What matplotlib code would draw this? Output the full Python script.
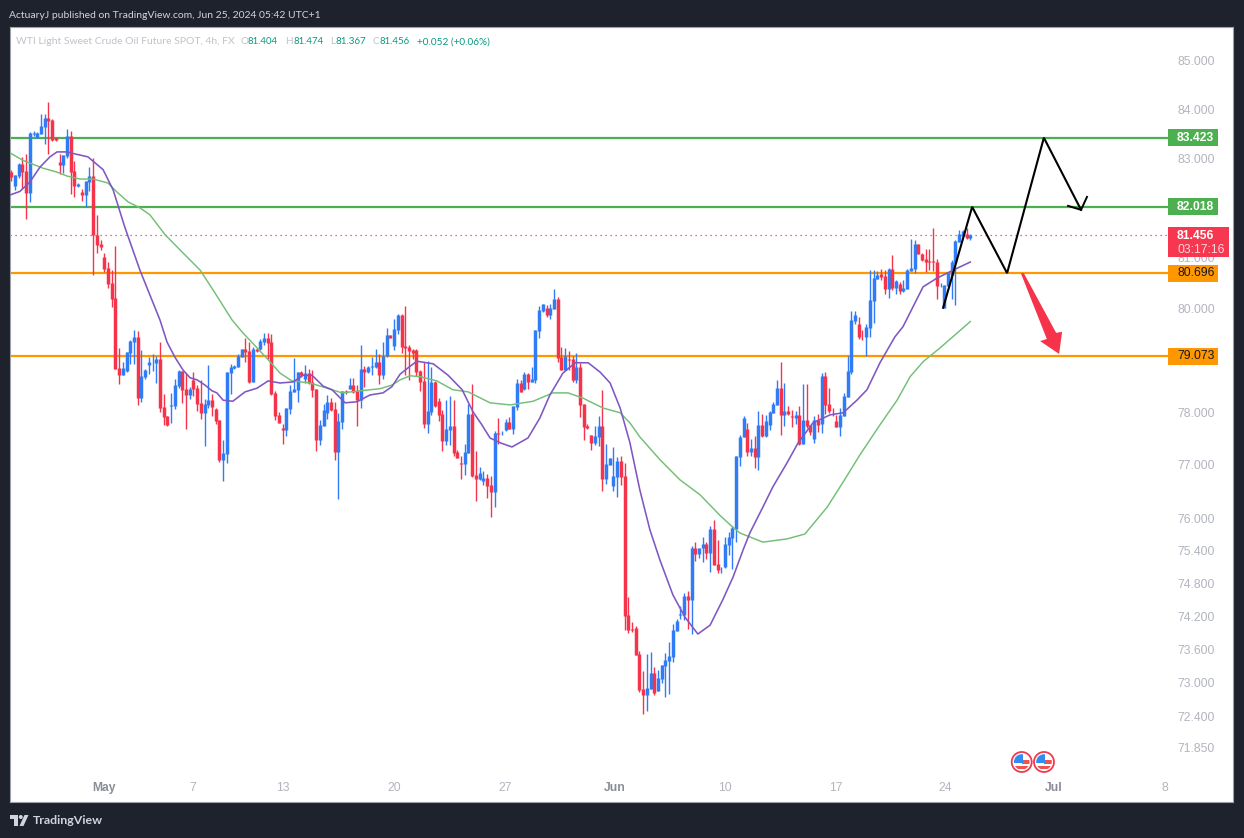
import matplotlib
matplotlib.use("Agg")
import matplotlib.pyplot as plt
from matplotlib.patches import Rectangle, Circle, Polygon
from matplotlib.ticker import NullLocator

open_ = [82.73,82.43,82.65,82.89,82.75,82.29,83.49,83.42,83.50,83.64,
83.82,83.78,83.41,82.93,82.87,83.05,83.46,82.75,82.44,82.32,
82.26,82.52,82.64,81.46,81.28,81.02,80.80,80.51,80.21,78.85,
78.72,78.80,79.14,79.36,79.45,78.28,78.68,78.91,78.96,78.95,
79.03,78.10,77.93,78.12,78.12,78.51,78.80,78.45,78.33,78.62,
78.47,78.17,77.98,78.13,78.23,78.06,77.85,77.09,77.20,78.76,
78.85,78.87,79.07,79.22,79.18,78.58,79.22,79.22,79.35,79.43,
79.35,78.37,77.94,77.70,77.66,78.06,78.38,78.42,78.77,78.64,
78.75,78.58,78.44,77.47,77.74,77.98,78.19,78.06,77.24,77.81,
78.41,78.44,78.52,78.40,78.23,78.83,78.77,78.87,78.87,78.97,
78.72,79.08,79.49,79.27,79.59,79.88,79.28,79.26,79.20,79.20,
78.80,78.60,77.77,78.00,78.58,78.21,77.96,77.45,77.66,77.74,
77.24,77.04,77.02,77.22,77.96,76.81,76.73,76.70,76.75,76.62,
76.49,77.60,77.58,77.66,77.81,77.68,78.10,78.56,78.45,78.74,
78.58,78.62,79.57,79.96,80.01,79.88,79.99,80.19,79.07,78.81,
79.03,79.03,78.62,78.87,78.15,77.74,77.56,77.41,77.53,77.74,
76.73,77.00,76.60,76.77,77.07,76.79,74.23,73.97,73.99,73.52,
72.89,72.79,72.89,73.18,72.86,73.07,73.31,73.39,73.46,73.93,
74.23,74.23,74.57,74.50,75.45,75.34,75.45,75.53,75.36,75.81,
75.16,75.06,75.10,75.51,75.64,75.81,77.15,77.52,77.68,77.25,
77.32,77.15,77.76,77.55,77.76,77.98,78.14,78.46,77.95,78.02,
77.93,77.89,77.95,77.40,77.85,77.76,77.49,77.85,77.78,78.69,
78.16,78.03,77.83,77.72,77.93,78.29,78.77,79.76,79.70,79.47,
79.45,79.63,80.15,80.59,80.68,80.64,80.39,80.78,80.41,80.49,
80.35,80.39,80.74,80.78,81.28,81.08,80.98,80.94,80.94,80.92,
80.46,80.01,80.45,80.66,80.90,81.32,81.44,81.48,81.404]

high = [82.76,82.66,82.90,83.02,83.08,83.53,83.56,83.53,83.90,83.90,
84.15,83.80,83.43,83.09,83.07,83.59,83.56,82.95,82.50,82.38,
82.54,82.82,83.01,81.86,81.36,81.10,80.92,80.77,81.24,79.24,
78.97,79.16,79.39,79.59,79.57,79.20,78.83,79.07,79.12,79.08,
79.35,78.35,77.93,78.37,78.64,78.81,78.80,78.76,78.49,78.78,
78.53,78.62,78.25,78.91,78.35,78.08,77.85,77.47,78.78,78.93,
78.91,79.12,79.22,79.43,79.35,79.26,79.24,79.41,79.53,79.53,
79.51,78.41,78.00,77.77,78.08,78.52,79.05,78.77,78.79,78.91,
78.83,78.81,78.44,77.85,78.15,78.33,78.27,78.19,77.98,78.40,
78.42,78.65,78.65,78.52,79.29,78.88,78.88,79.07,79.21,79.12,
79.35,79.62,79.49,79.80,79.90,79.90,80.05,79.30,79.22,79.22,
78.81,78.97,78.99,78.87,78.60,78.27,78.04,78.23,78.31,78.23,
77.28,77.17,77.39,78.15,78.54,77.26,76.96,76.88,76.83,76.79,
77.64,77.89,77.64,77.87,77.91,78.12,78.64,78.62,78.78,78.76,
78.87,79.59,80.05,80.09,80.07,80.09,80.39,80.23,79.26,79.24,
79.18,79.08,79.14,78.95,78.15,77.77,77.56,77.74,77.92,78.43,
77.39,77.13,77.34,77.15,77.17,77.04,74.55,74.10,74.03,73.57,
73.22,73.52,73.56,73.29,73.23,73.32,73.54,73.74,74.06,74.15,
74.39,74.63,74.66,75.49,75.57,75.45,75.66,75.57,75.86,75.97,
75.60,75.10,75.66,75.75,75.86,77.17,77.57,77.93,77.80,77.49,
77.55,78.02,77.97,77.95,78.02,78.20,78.62,78.97,78.56,78.12,
78.04,78.02,78.12,78.54,78.54,77.76,77.93,77.97,78.75,78.77,
78.46,78.08,77.95,78.08,78.37,79.08,79.96,79.96,79.84,79.59,
79.70,80.76,80.76,80.74,80.78,80.76,80.80,81.06,80.57,80.53,
80.57,80.78,81.38,81.36,81.28,81.10,81.18,81.18,81.60,80.98,
80.51,80.47,80.70,80.96,81.36,81.56,81.56,81.60,81.474]

low = [82.55,82.35,82.60,82.38,81.77,82.11,83.46,83.42,83.50,83.29,
83.08,83.36,83.36,82.68,82.71,83.01,82.27,82.22,82.42,82.14,
82.01,82.34,80.67,81.10,81.16,80.73,80.41,80.03,78.83,78.55,
78.72,78.78,78.93,78.93,78.14,78.19,78.64,78.74,78.80,78.56,
78.00,77.75,77.74,77.79,78.06,78.47,78.17,77.68,78.25,78.31,
78.02,77.87,77.36,78.08,77.93,77.77,77.05,76.70,77.04,78.35,
78.83,78.87,79.07,78.97,78.56,78.58,79.16,79.20,79.30,79.03,
78.33,77.85,77.79,77.39,77.55,77.96,78.38,78.19,78.68,78.56,
78.54,78.29,77.26,77.38,77.74,77.87,78.02,77.09,76.36,77.68,
78.35,78.44,78.37,77.74,78.08,78.48,78.75,78.72,78.85,78.54,
78.64,79.07,79.43,79.20,79.51,79.14,78.72,78.62,79.03,78.70,
78.41,77.70,77.60,77.94,78.10,77.83,77.26,77.38,77.38,77.17,
77.13,76.73,76.81,77.22,76.77,76.32,76.71,76.62,76.38,76.02,
76.21,77.39,77.56,77.64,77.68,77.58,78.04,78.39,78.43,78.45,
78.58,78.56,79.43,79.94,79.84,79.80,79.99,78.97,78.81,78.81,
78.81,78.58,78.56,77.91,77.47,77.68,77.28,77.38,77.36,76.51,
76.64,77.00,76.51,76.40,76.62,73.95,73.90,73.92,73.50,72.84,
72.45,72.50,72.89,72.79,72.86,73.00,72.75,72.80,73.38,73.93,
74.15,74.14,73.97,73.88,75.21,75.27,75.20,75.25,75.01,75.14,
74.99,74.99,75.08,75.32,75.07,75.56,76.98,77.52,77.17,77.17,
76.94,76.91,77.52,77.52,77.66,77.98,78.14,77.57,77.74,77.95,
77.72,77.78,77.38,77.40,77.70,77.57,77.42,77.62,77.60,77.97,
77.98,77.93,77.72,77.55,77.93,78.29,78.73,79.70,79.41,79.39,
79.08,79.45,79.72,80.59,80.57,80.29,80.21,80.37,80.29,80.29,
80.33,80.39,80.74,80.70,81.08,80.94,80.72,80.76,80.74,80.19,
80.43,80.01,80.45,80.19,80.07,81.32,81.42,81.38,81.367]

close = [82.62,82.66,82.89,82.73,82.29,83.51,83.51,83.51,83.66,83.82,
83.76,83.38,83.38,82.87,83.07,83.46,82.73,82.44,82.48,82.26,
82.54,82.64,81.45,81.26,81.22,80.78,80.48,80.19,78.83,78.72,
78.85,79.16,79.37,79.45,78.28,78.70,78.81,78.97,78.97,79.03,
78.08,77.91,77.75,78.13,78.53,78.80,78.43,78.33,78.45,78.45,
78.15,77.98,78.15,78.23,78.10,77.83,77.09,77.22,78.78,78.87,
78.89,79.08,79.22,79.16,78.58,79.22,79.18,79.37,79.43,79.33,
78.35,77.93,77.79,77.66,78.08,78.40,78.44,78.77,78.72,78.75,
78.56,78.42,77.47,77.75,78.04,78.19,78.04,77.24,77.83,78.40,
78.39,78.52,78.38,78.23,78.83,78.77,78.87,78.88,78.97,78.72,
79.09,79.49,79.43,79.60,79.88,79.26,79.24,79.18,79.14,78.78,
78.58,77.77,78.02,78.58,78.12,77.94,77.45,77.68,77.74,77.22,
77.13,77.02,77.24,77.96,76.79,76.73,76.85,76.75,76.60,76.49,
77.60,77.58,77.59,77.81,77.68,78.12,78.56,78.39,78.74,78.58,
78.64,79.59,79.98,80.09,79.88,80.01,80.19,79.05,78.81,79.08,
79.01,78.62,78.87,78.13,77.72,77.70,77.41,77.55,77.74,76.73,
77.02,77.13,76.79,77.07,76.77,74.21,73.95,73.96,73.50,72.88,
72.79,72.91,73.18,72.82,73.09,73.32,73.41,73.48,73.95,74.12,
74.25,74.57,74.50,75.45,75.34,75.45,75.53,75.36,75.81,75.14,
75.05,75.07,75.53,75.66,75.83,77.17,77.53,77.89,77.25,77.32,
77.15,77.76,77.55,77.83,78.00,78.16,78.46,77.95,78.02,77.97,
77.90,77.95,77.40,77.85,77.74,77.62,77.85,77.76,78.69,78.14,
78.02,78.02,77.72,77.95,78.31,78.79,79.78,79.88,79.45,79.46,
79.65,80.17,80.61,80.66,80.63,80.39,80.78,80.41,80.55,80.35,
80.41,80.76,80.80,81.28,81.08,80.96,80.92,80.93,80.93,80.45,
80.47,80.47,80.70,80.92,81.34,81.48,81.54,81.40,81.456]

fast_ma_bar = [-0.3,2.3,5,7.7,10.4,12.3,15,17.1,20.6,24.7,27.4,30.6,34.6,40,41.9,44,46.2,48.1,50,52.1,54,55.3,57,59.6,62.9,66.1,69.1,72.3,75.8,78.5,80.9,83.9,86.3,89.8,93,96.5,100,102.4,104.6,106.7,109.1,113.5,117.5,121.3,124.2,126.6,128.8,131.5,134.7,139,142.2,144.9,148.4,151.7,155.2,158.4,161.1,163.8,166.4,169.1,171.8,174.5,178,181.2,184.7,188,191.4,194.2,196.9,198.7,202.2,204.9,208.7,211.7,215.7,220.3,223.8,227.5,230.2,233.7,237.7,239.9,245.3,249,253.4,258]
fast_ma_val = [82.26,82.33,82.52,82.82,83.03,83.13,83.13,83.09,83.03,82.77,82.36,81.60,80.76,79.78,79.35,79.06,78.81,78.66,78.62,78.52,78.41,78.37,78.23,78.21,78.39,78.46,78.60,78.56,78.58,78.71,78.71,78.50,78.43,78.18,78.20,78.33,78.37,78.49,78.73,78.85,78.98,78.93,78.71,78.43,78.01,77.76,77.51,77.42,77.34,77.51,77.89,78.33,78.75,78.95,78.95,78.77,78.56,78.08,77.43,76.53,75.79,75.23,74.59,74.19,73.88,74.04,74.50,74.92,75.42,75.73,76.21,76.59,77.04,77.42,77.80,77.95,77.99,78.23,78.43,78.95,79.45,79.65,80.43,80.60,80.76,80.92]

slow_ma_bar = [-0.35,3.1,8.5,12.3,15,18.5,22,26,28.4,31.4,34.6,37.3,41.4,45.4,50.8,54.8,59.4,62.3,66.1,69.6,72.3,75.5,80.4,83.6,89,93.8,99.2,102.4,104.6,107.3,110,114.5,118.8,122.9,128.8,134.2,140.4,145.7,149.8,153.8,159.2,163.8,166.4,169.1,174.5,179.9,185.3,190.6,193.4,196,202.2,208.7,213.5,219.5,223.8,228.3,233.7,238.3,241.8,245.3,249.9,258]
slow_ma_val = [83.11,82.96,82.80,82.72,82.64,82.58,82.58,82.50,82.32,82.12,82.00,81.86,81.46,81.16,80.76,80.31,79.78,79.53,79.24,78.97,78.75,78.60,78.56,78.49,78.37,78.41,78.45,78.52,78.62,78.70,78.68,78.60,78.43,78.39,78.18,78.14,78.21,78.37,78.37,78.27,78.08,77.99,77.80,77.53,77.10,76.72,76.44,76.06,75.88,75.73,75.56,75.62,75.71,76.21,76.68,77.19,77.76,78.23,78.68,78.97,79.24,79.75]

green_levels = [83.423, 82.018]
orange_levels = [80.696, 79.073]
last_price = 81.456
countdown = "03:17:16"

path_bar = [250.7,258.5,267.9,277.8,287.8]
path_val = [80.02,82.02,80.70,83.42,81.96]
head_bar = [289.4,287.8,284.3]
head_val = [82.22,81.96,82.04]
red_arrow_bar = [271.6,272.4,281.1,282.7,281.9,276.8,278.6]
red_arrow_val = [80.70,80.70,79.53,79.55,79.12,79.37,79.41]

price_ticks = [85.0,84.0,83.0,81.0,80.0,78.0,77.0,76.0,75.4,74.8,74.2,73.6,73.0,72.4,71.85]
date_pos = [24.94,48.9,73.1,103,132.8,162.4,192,221.9,251.2,280.5,310.4]
date_labels = ["May","7","13","20","27","Jun","10","17","24","Jul","8"]
month_labels = {"May","Jun","Jul"}

BG = "#1e222d"
UP = "#2f7cf6"
DOWN = "#f5334a"
GREEN = "#4caf50"
ORANGE = "#ff9800"
TICK = "#b2b5be"
TEAL = "#089981"
LEG = "#bfc2ca"
W, H = 1244, 838
plt.rcParams["font.family"] = ["Liberation Sans", "DejaVu Sans"]

fig = plt.figure(figsize=(W/100, H/100), dpi=100, facecolor=BG)
L, R, T, B = 10, 1233, 27, 802
ax = fig.add_axes([L/W, (H-B)/H, (R-L)/W, (B-T)/H], facecolor="white")
ax.set_yscale("log")
ax.set_xlim(-0.35, 328.68)
ax.set_ylim(70.905, 85.71)
for s in ax.spines.values():
    s.set_color("#9ea1a9")
    s.set_linewidth(0.8)
ax.yaxis.tick_right()
ax.set_yticks(price_ticks, [f"{v:.3f}" for v in price_ticks])
ax.yaxis.set_minor_locator(NullLocator())
ax.tick_params(axis="y", which="both", length=0, pad=-40.3, labelsize=8.7, labelcolor=TICK)
ax.set_xticks(date_pos, date_labels)
ax.tick_params(axis="x", length=0, pad=-14.5, labelsize=8.7, labelcolor=TICK)
for t, s in zip(ax.get_xticklabels(), date_labels):
    if s in month_labels:
        t.set_fontweight("bold")
        t.set_color("#8a8d96")

END_BAR = 311.2  # right end of the level lines
for v in green_levels:
    ax.hlines(v, -0.35, END_BAR, color=GREEN, lw=1.6, zorder=2)
for v in orange_levels:
    ax.hlines(v, -0.35, END_BAR, color=ORANGE, lw=1.6, zorder=2)
ax.hlines(last_price, -0.35, END_BAR, color=DOWN, lw=0.9, linestyles=(0, (1, 3)), zorder=2)

bars = list(range(len(close)))
colors = [UP if c >= o else DOWN for o, c in zip(open_, close)]
ax.vlines(bars, low, high, colors=colors, lw=1.0, capstyle="butt", zorder=3)
ax.vlines(bars, [min(o, c) for o, c in zip(open_, close)], [max(o, c) for o, c in zip(open_, close)],
          colors=colors, lw=2.5, capstyle="butt", zorder=3)

ax.plot(slow_ma_bar, slow_ma_val, color="#72bf75", lw=1.05, zorder=4)
ax.plot(fast_ma_bar, fast_ma_val, color="#7e57c2", lw=1.15, zorder=4)
ax.plot(path_bar, path_val, color="black", lw=1.5, zorder=5, solid_joinstyle="miter")
ax.plot(head_bar, head_val, color="black", lw=1.4, zorder=5)
ax.add_patch(Polygon(list(zip(red_arrow_bar, red_arrow_val)), closed=True, fc=DOWN, ec="none", zorder=5))

# overlay in pixel units for scale labels, header and logos
ov = fig.add_axes([0, 0, 1, 1], zorder=5, facecolor="none")
ov.set_xlim(0, W)
ov.set_ylim(H, 0)
ov.axis("off")
renderer = fig.canvas.get_renderer()

def fitted(x, y, s, width, color, **kw):
    t = ov.text(x, y, s, color=color, va="center", fontsize=9, **kw)
    t.set_fontsize(9 * width / t.get_window_extent(renderer).width)
    return t

def ypix(price):
    return H - ax.transData.transform((0, price))[1]

def tag(price, color, tcolor):
    y = ypix(price)
    ov.add_patch(Rectangle((1168, y-8.5), 50, 17, fc=color, ec="none"))
    ov.text(1177, y, f"{price:.3f}", color=tcolor, fontsize=8.7, va="center", ha="left",
            fontweight="bold" if tcolor == "white" else "normal")

for v in green_levels:
    tag(v, GREEN, "white")
for v in orange_levels:
    tag(v, ORANGE, "#131722")

y_last = ypix(last_price)
ov.add_patch(Rectangle((1168, y_last-8.5), 61, 30, fc="#f7374f", ec="none"))
ov.text(1177, y_last+0.5, f"{last_price:.3f}", color="white", fontsize=8.7, fontweight="bold", va="center")
ov.text(1177, y_last+14.5, countdown, color="#fbd5da", fontsize=8.7, va="center")

HEAD = "Lato"
fitted(9, 15, "ActuaryJ published on TradingView.com, Jun 25, 2024 05:42 UTC+1", 314, "#d1d4dc", family=HEAD)
fitted(16, 42, "WTI Light Sweet Crude Oil Future SPOT, 4h, FX", 219, LEG, family=HEAD)
for x, s in [(240.5, "O"), (285.5, "H"), (330, "L"), (372.5, "C")]:
    ov.text(x, 42, s, color=LEG, fontsize=7.2, va="center", family=HEAD)
for x, s in [(248, "81.404"), (293, "81.474"), (335.5, "81.367"), (379, "81.456")]:
    fitted(x, 42, s, 30.5, TEAL, family=HEAD)
fitted(417, 42, "+0.052 (+0.06%)", 73, TEAL, family=HEAD)

# TradingView logo
LOGO = "#d1d4dc"
ov.add_patch(Polygon([(10, 815), (18, 815), (18, 826), (14, 826), (14, 819), (10, 819)], fc=LOGO, ec="none"))
ov.add_patch(Circle((20.8, 817), 2, fc=LOGO, ec="none"))
ov.add_patch(Polygon([(24.5, 815), (28.5, 815), (23.5, 826), (19.5, 826)], fc=LOGO, ec="none"))
fitted(33, 820.5, "TradingView", 70, LOGO, fontweight="bold", family="Lato")

# event flags
for cx in (1021.7, 1044):
    cy = 762
    ov.add_patch(Circle((cx, cy), 10, fc="white", ec="#f0394f", lw=1.3, zorder=6))
    clip = Circle((cx, cy), 7.8, transform=ov.transData)
    for (x0, y0, w0, h0, c) in [(cx, cy-1.8, 8, 3.4, "#ef5350"), (cx-8, cy+3.8, 16, 3.6, "#ef5350"),
                                (cx-8, cy-8, 8.8, 9.3, "#2f8cf0")]:
        r = Rectangle((x0, y0), w0, h0, fc=c, ec="none", zorder=7)
        ov.add_patch(r)
        r.set_clip_path(clip)

fig.savefig("out.png", dpi=100, facecolor=BG)
